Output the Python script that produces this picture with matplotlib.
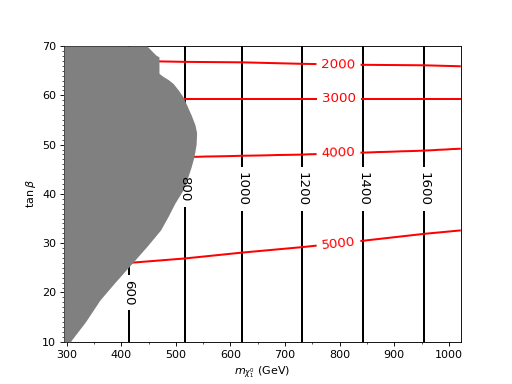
import numpy as np
import matplotlib
matplotlib.use("Agg")
import matplotlib.pyplot as plt
from matplotlib.ticker import MultipleLocator

# black contours: level and x position of the (vertical) line
black_levels = [600, 800, 1000, 1200, 1400, 1600]
black_x = [414, 516, 622, 731, 843, 955]

# red contours: y position of each line sampled at these x values
red_levels = [5000, 4000, 3000, 2000]
red_xs = [414, 516, 622, 731, 843, 955, 1022]
red_y = {
    5000: [26.0, 26.9, 28.1, 29.2, 30.5, 31.9, 32.6],
    4000: [47.2, 47.5, 47.75, 48.0, 48.4, 48.8, 49.2],
    3000: [59.35, 59.35, 59.35, 59.35, 59.35, 59.35, 59.35],
    2000: [67.0, 66.8, 66.7, 66.4, 66.2, 66.1, 65.9],
}

# excluded (grey) region: right edge x for each tan(beta)
excl_y = [10, 10.4, 14, 18.5, 22, 26.1, 29.5, 32.7, 35.5, 38.1, 40.8, 43.5,
          45.5, 47.5, 50, 52.4, 54, 56, 58, 59.7, 61, 62.4, 63.2, 63.8, 64.3,
          64.5, 67.8, 68.2, 70]
excl_x = [307, 309, 334, 361, 388, 421, 448, 472, 486, 498, 513, 522,
          528, 533, 537, 538, 535, 528, 520, 513, 505, 495, 486, 477, 471,
          469, 469, 463, 447]

black_label_pos = [(414, 20), (516, 41), (622, 41), (731, 41), (843, 41), (955, 41)]
red_label_pos = [(798, 29.9), (798, 48.2), (798, 59.35), (798, 66.3)]

xmin, xmax = 295, 1022


def interp_ext(x, xp, fp):
    # piecewise linear with straight extension past the ends
    xp = np.asarray(xp, float)
    fp = np.asarray(fp, float)
    out = np.interp(x, xp, fp)
    lo = x < xp[0]
    hi = x > xp[-1]
    out[lo] = fp[0] + (x[lo] - xp[0]) * (fp[1] - fp[0]) / (xp[1] - xp[0])
    out[hi] = fp[-1] + (x[hi] - xp[-1]) * (fp[-1] - fp[-2]) / (xp[-1] - xp[-2])
    return out


gx = np.linspace(xmin, xmax, 400)
gy = np.linspace(10, 70, 400)
X, Y = np.meshgrid(gx, gy)

black_field = np.tile(interp_ext(gx, black_x, black_levels), (len(gy), 1))

# y of each red line on the grid columns
red_cols = np.array([interp_ext(gx, red_xs, red_y[lv]) for lv in red_levels])
red_field = np.zeros_like(X)
for j in range(len(gx)):
    red_field[:, j] = interp_ext(gy, red_cols[:, j], red_levels)

fig, ax = plt.subplots(figsize=(6.4, 4.8), dpi=80)

cs_b = ax.contour(X, Y, black_field, levels=black_levels, colors="black", linewidths=1.8)
ax.clabel(cs_b, fmt="%d", fontsize=12, manual=black_label_pos)
cs_r = ax.contour(X, Y, red_field, levels=red_levels[::-1], colors="red", linewidths=1.8)
ax.clabel(cs_r, fmt="%d", fontsize=12, manual=red_label_pos)

ax.fill_betweenx(excl_y, xmin, excl_x, color="grey", lw=0, zorder=3)

ax.set_xlim(xmin, xmax)
ax.set_ylim(10, 70)
ax.xaxis.set_minor_locator(MultipleLocator(50))
ax.yaxis.set_minor_locator(MultipleLocator(1))
ax.set_xlabel(r"$m_{\chi_1^0}$ (GeV)")
ax.set_ylabel(r"$\tan\beta$")

fig.savefig("out.png", dpi=80)
